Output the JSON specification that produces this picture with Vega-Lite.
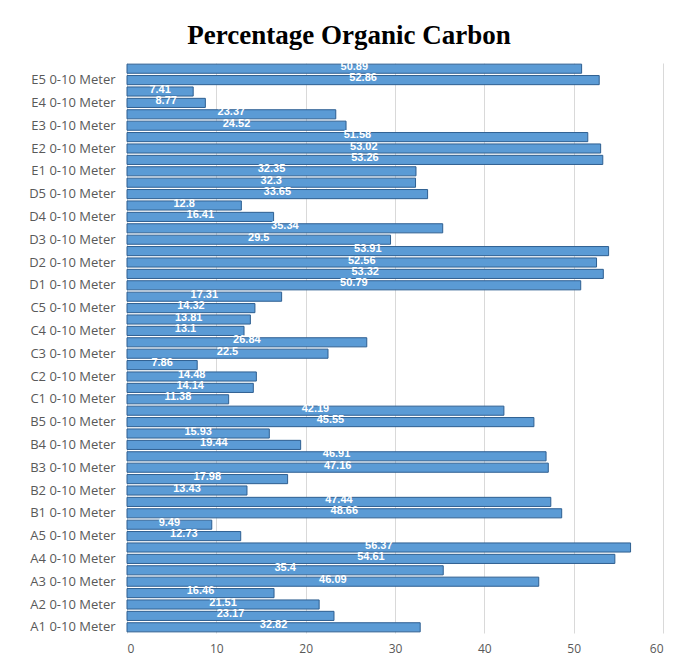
{
  "$schema": "https://vega.github.io/schema/vega-lite/v6.json",
  "autosize": {"type": "none"},
  "padding": {"left": 127, "top": 63, "right": 16, "bottom": 28},
  "width": 536,
  "height": 570,
  "background": "white",
  "config": {"view": {"stroke": null}},
  "title": {
    "text": "Percentage Organic Carbon",
    "font": "Liberation Serif",
    "fontSize": 27,
    "fontWeight": "bold",
    "color": "#000000",
    "anchor": "middle",
    "dx": -46,
    "offset": 11
  },
  "data": {
    "values": [
      {"site": "E5 10-20 Meter", "oc": 50.89},
      {"site": "E5 0-10 Meter", "oc": 52.86},
      {"site": "E4 10-20 Meter", "oc": 7.41},
      {"site": "E4 0-10 Meter", "oc": 8.77},
      {"site": "E3 10-20 Meter", "oc": 23.37},
      {"site": "E3 0-10 Meter", "oc": 24.52},
      {"site": "E2 10-20 Meter", "oc": 51.58},
      {"site": "E2 0-10 Meter", "oc": 53.02},
      {"site": "E1 10-20 Meter", "oc": 53.26},
      {"site": "E1 0-10 Meter", "oc": 32.35},
      {"site": "D5 10-20 Meter", "oc": 32.3},
      {"site": "D5 0-10 Meter", "oc": 33.65},
      {"site": "D4 10-20 Meter", "oc": 12.8},
      {"site": "D4 0-10 Meter", "oc": 16.41},
      {"site": "D3 10-20 Meter", "oc": 35.34},
      {"site": "D3 0-10 Meter", "oc": 29.5},
      {"site": "D2 10-20 Meter", "oc": 53.91},
      {"site": "D2 0-10 Meter", "oc": 52.56},
      {"site": "D1 10-20 Meter", "oc": 53.32},
      {"site": "D1 0-10 Meter", "oc": 50.79},
      {"site": "C5 10-20 Meter", "oc": 17.31},
      {"site": "C5 0-10 Meter", "oc": 14.32},
      {"site": "C4 10-20 Meter", "oc": 13.81},
      {"site": "C4 0-10 Meter", "oc": 13.1},
      {"site": "C3 10-20 Meter", "oc": 26.84},
      {"site": "C3 0-10 Meter", "oc": 22.5},
      {"site": "C2 10-20 Meter", "oc": 7.86},
      {"site": "C2 0-10 Meter", "oc": 14.48},
      {"site": "C1 10-20 Meter", "oc": 14.14},
      {"site": "C1 0-10 Meter", "oc": 11.38},
      {"site": "B5 10-20 Meter", "oc": 42.19},
      {"site": "B5 0-10 Meter", "oc": 45.55},
      {"site": "B4 10-20 Meter", "oc": 15.93},
      {"site": "B4 0-10 Meter", "oc": 19.44},
      {"site": "B3 10-20 Meter", "oc": 46.91},
      {"site": "B3 0-10 Meter", "oc": 47.16},
      {"site": "B2 10-20 Meter", "oc": 17.98},
      {"site": "B2 0-10 Meter", "oc": 13.43},
      {"site": "B1 10-20 Meter", "oc": 47.44},
      {"site": "B1 0-10 Meter", "oc": 48.66},
      {"site": "A5 10-20 Meter", "oc": 9.49},
      {"site": "A5 0-10 Meter", "oc": 12.73},
      {"site": "A4 10-20 Meter", "oc": 56.37},
      {"site": "A4 0-10 Meter", "oc": 54.61},
      {"site": "A3 10-20 Meter", "oc": 35.4},
      {"site": "A3 0-10 Meter", "oc": 46.09},
      {"site": "A2 10-20 Meter", "oc": 16.46},
      {"site": "A2 0-10 Meter", "oc": 21.51},
      {"site": "A1 10-20 Meter", "oc": 23.17},
      {"site": "A1 0-10 Meter", "oc": 32.82}
    ]
  },
  "encoding": {
    "y": {
      "field": "site",
      "type": "nominal",
      "sort": null,
      "scale": {"paddingInner": 0.2, "paddingOuter": 0.1},
      "axis": {
        "title": null,
        "domain": false,
        "ticks": false,
        "labelPadding": 12,
        "labelFont": "Open Sans",
        "labelFontSize": 13,
        "labelColor": "#595959",
        "labelExpr": "indexof(datum.value, '0-10') >= 0 ? datum.value : ''"
      }
    }
  },
  "layer": [
    {
      "mark": {"type": "bar", "color": "#5b9bd5", "stroke": "#2e5f91", "strokeWidth": 1},
      "encoding": {
        "x": {
          "field": "oc",
          "type": "quantitative",
          "scale": {"domain": [0, 60]},
          "axis": {
            "title": null,
            "values": [0, 10, 20, 30, 40, 50, 60],
            "domain": false,
            "ticks": false,
            "labelPadding": 10,
            "labelFont": "Open Sans",
            "labelFontSize": 12,
            "labelColor": "#595959",
            "gridColor": "#d9d9d9"
          }
        }
      }
    },
    {
      "transform": [{"calculate": "datum.oc / 2", "as": "mid"}],
      "mark": {"type": "text", "color": "white", "font": "Liberation Sans", "fontWeight": "bold", "fontSize": 11, "dy": -2},
      "encoding": {
        "x": {"field": "mid", "type": "quantitative"},
        "text": {"field": "oc", "type": "quantitative"}
      }
    }
  ]
}
